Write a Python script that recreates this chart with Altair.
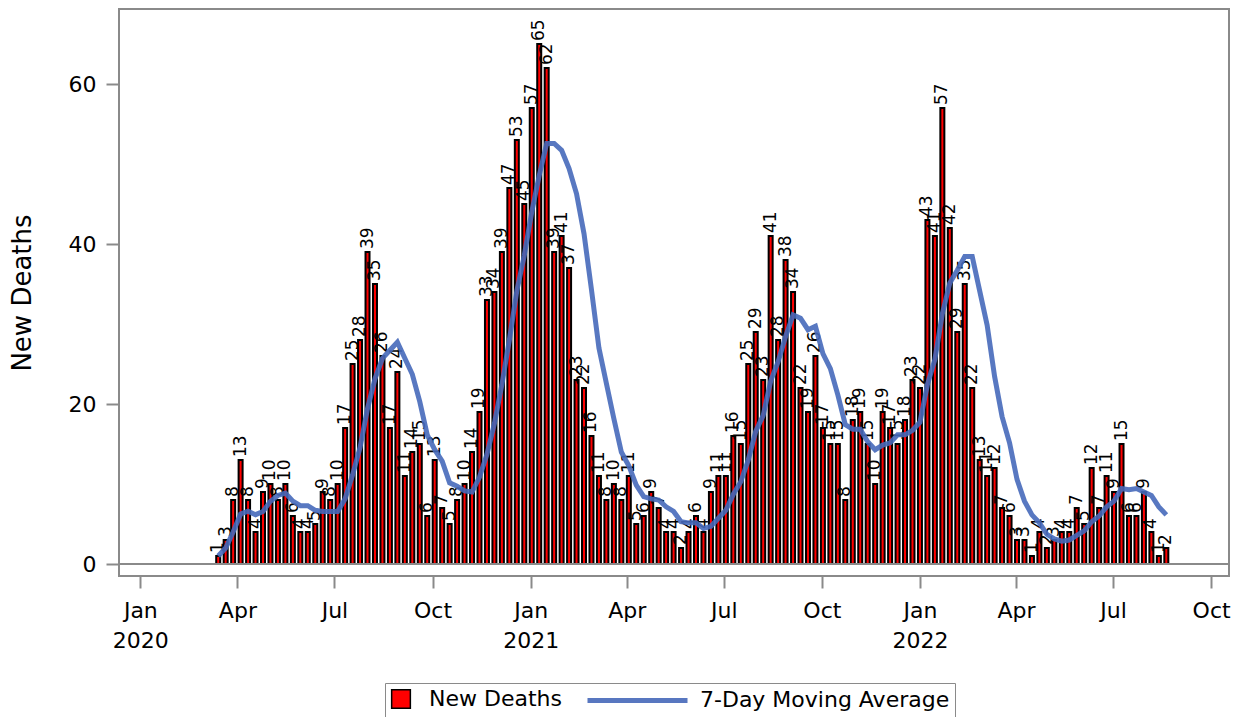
import altair as alt
import pandas as pd

# ---- data (weekly new deaths) ----
first_week = "2020-03-14"
new_deaths = [1, 3, 8, 13, 8, 4, 9, 10, 8, 10,
              6, 4, 4, 5, 9, 8, 10, 17, 25, 28,
              39, 35, 26, 17, 24, 11, 14, 15, 6, 13,
              7, 5, 8, 10, 14, 19, 33, 34, 39, 47,
              53, 45, 57, 65, 62, 39, 41, 37, 23, 22,
              16, 11, 8, 10, 8, 11, 5, 6, 9, 7,
              4, 4, 2, 4, 6, 4, 9, 11, 11, 16,
              15, 25, 29, 23, 41, 28, 38, 34, 22, 19,
              26, 17, 15, 15, 8, 18, 19, 15, 10, 19,
              17, 15, 18, 23, 22, 43, 41, 57, 42, 29,
              35, 22, 13, 11, 12, 7, 6, 3, 3, 1,
              4, 2, 3, 4, 4, 7, 5, 12, 7, 11,
              9, 15, 6, 6, 9, 4, 1, 2]
week_dates = [d.strftime("%Y-%m-%d") for d in pd.date_range(first_week, periods=len(new_deaths), freq="7D")]

bar_series = ["New Deaths"]
line_series = ["7-Day Moving Average"]
y_ticks = [0, 20, 40, 60]
x_tick_dates = ["2020-01-01", "2020-04-01", "2020-07-01", "2020-10-01",
                "2021-01-01", "2021-04-01", "2021-07-01", "2021-10-01",
                "2022-01-01", "2022-04-01", "2022-07-01", "2022-10-01"]
x_domain = ["2019-12-16 16:00", "2022-10-13 02:00"]
y_domain = [-1.5, 69.375]

BAR_RED = "#ff0000"
LINE_BLUE = "#4669ba"
FRAME = "#8a8a8a"
FONT = "DejaVu Sans"


def ms(s):
    return int(pd.Timestamp(s, tz="UTC").value // 10**6)


df = pd.DataFrame({"date": week_dates, "deaths": new_deaths})

x_enc = alt.X(
    "date:T",
    scale=alt.Scale(type="utc", domain=[ms(d) for d in x_domain], nice=False),
    axis=alt.Axis(
        values=[ms(d) for d in x_tick_dates],
        labelExpr="utcmonth(datum.value) == 0 ? [utcFormat(datum.value, '%b'), utcFormat(datum.value, '%Y')] : utcFormat(datum.value, '%b')",
        title=None, domain=False, grid=False, tickSize=12, tickColor=FRAME, tickWidth=2,
        labelFont=FONT, labelFontSize=22, labelColor="black", labelPadding=12,
        labelLineHeight=30, labelAngle=0, labelFlush=False, labelOverlap=False, labelBound=False,
    ),
)
y_scale = alt.Scale(domain=y_domain, nice=False, zero=False)
y_enc = alt.Y(
    "deaths:Q",
    scale=y_scale,
    axis=alt.Axis(
        values=y_ticks, title="New Deaths", domain=False, grid=False,
        tickSize=13, tickColor=FRAME, tickWidth=2,
        labelFont=FONT, labelFontSize=22, labelColor="black", labelPadding=10,
        titleFont=FONT, titleFontSize=26, titleFontWeight="normal", titleColor="black",
        titleX=-97, titleY=283.5, titleBaseline="middle",
    ),
)

# legend box: square entry + the moving-average text as the legend title on the right
legend_bars = alt.Legend(
    title=line_series[0], titleOrient="right", titleFont=FONT, titleFontSize=22,
    titleFontWeight="normal", titleColor="black", titlePadding=138, titleLimit=1000,
    orient="none", legendX=266, legendY=674, direction="horizontal",
    padding=5, strokeColor=FRAME, fillColor="white",
    labelFont=FONT, labelFontSize=22, labelColor="black", labelLimit=400, labelOffset=17,
    symbolType="square", symbolSize=350, symbolStrokeColor="black", symbolStrokeWidth=1.5,
)
# line symbol drawn inside the same box
legend_line = alt.Legend(
    title=None, orient="none", legendX=466, legendY=639, direction="horizontal",
    padding=0, labelExpr="''",
    symbolType="stroke", symbolSize=10000, symbolStrokeWidth=5, symbolStrokeColor=LINE_BLUE,
)

base = alt.Chart(df)

bars = base.transform_calculate(series="'New Deaths'").mark_bar(
    width=4, stroke="black", strokeWidth=2
).encode(
    x=x_enc,
    y=y_enc,
    y2=alt.datum(0),
    fill=alt.Fill("series:N", scale=alt.Scale(domain=bar_series, range=[BAR_RED]), legend=legend_bars),
)

zero_rule = alt.Chart(pd.DataFrame({"zero": [0]})).mark_rule(color=FRAME, strokeWidth=2).encode(
    y=alt.Y("zero:Q", scale=y_scale)
)

labels = base.mark_text(
    angle=270, align="left", baseline="middle", dx=3, font=FONT, fontSize=17, color="black"
).encode(x=x_enc, y=alt.Y("deaths:Q", scale=y_scale), text="deaths:Q")

ma_line = base.transform_window(
    ma="mean(deaths)", frame=[-6, 0], sort=[alt.SortField("date")]
).transform_calculate(series="'7-Day Moving Average'").mark_line(
    strokeWidth=5, opacity=0.9
).encode(
    x=x_enc,
    y=alt.Y("ma:Q", scale=y_scale),
    stroke=alt.Stroke("series:N", scale=alt.Scale(domain=line_series, range=[LINE_BLUE]), legend=legend_line),
)

chart = alt.layer(bars, zero_rule, labels, ma_line).resolve_legend(
    fill="independent", stroke="independent"
).properties(
    width=1110, height=567,
    padding={"left": 111, "top": 1, "right": 9, "bottom": 141},
    autosize=alt.AutoSizeParams(type="none"),
    background="white",
).configure_view(stroke=FRAME, strokeWidth=2)

chart.save("out.html", embed_options={"renderer": "svg", "actions": False})
